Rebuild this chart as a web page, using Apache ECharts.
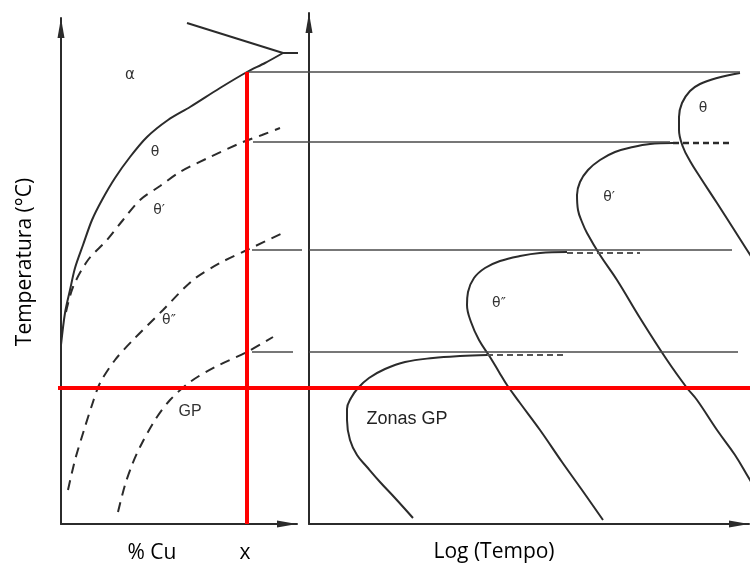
<!DOCTYPE html>
<html><head><meta charset="utf-8">
<script src="https://cdn.jsdelivr.net/npm/echarts@6/dist/echarts.min.js"></script>
<style>html,body{margin:0;padding:0;background:#fff}#c{width:750px;height:570px}</style>
</head><body><div id="c"></div>
<script>
// ---- Left panel: x = % Cu (arbitrary units), y = temperature (arbitrary units) ----
const solvusTheta = [[0,89.5],[2,105.5],[4.5,117],[7,128],[11,139.5],[15.5,152],[20.5,162],[27,173],[34.5,183.5],[43,193.5],[53.5,202],[64.5,208.5],[79.5,218],[93,226],[102,230.5],[111,235.5]];
const solvusUpper = [[111,235.5],[63,250.5]];
const solvusTick = [[111,235.5],[118.5,235.5]];
const solvusThetaPrime = [[2.5,106],[6,118.5],[13.5,132],[23,142],[31,152],[39.5,162],[49.5,169],[59.5,176],[74.5,183.5],[91,191],[100.5,194.5],[109.5,198]];
const solvusThetaDoublePrime = [[3.5,17],[7,32],[11.5,47],[15.5,59.5],[19.5,70.5],[27,82],[36,92],[51,107],[66,122],[79.5,130.5],[93,137],[112,146]];
const solvusGP = [[28.5,6],[32,19.5],[35.5,29.5],[39.5,38.5],[47,52],[54.5,62],[64.5,71],[77,78.5],[93,86],[106,93.5]];

// ---- Right panel: x = log(tempo) (arbitrary units), y = temperature ----
const cTheta = [[215.5,225.5],[204,223],[195.5,220],[190.5,216.5],[186.5,210.5],[185,203.5],[185,197],[187,188.5],[190.5,181.5],[195.5,173.5],[204,160.5],[212,148],[219,137],[225.5,127]];
const cThetaPrime = [[182,190.5],[170.5,190],[162,188.5],[153,186],[145.5,182],[139.5,177],[135.5,171],[134,164.5],[134.5,157],[136.5,151],[139,145.5],[145.5,134.5],[154,122],[165.5,103],[179,82],[189,68],[194,62],[204,47],[213,34.5],[220.5,22],[225.5,14.5]];
const cThetaDoublePrime = [[129,136],[115.5,135.5],[105.5,134],[95.5,131.5],[88,128],[82.5,123],[79.5,116],[79,109.5],[81,101],[85,92],[90.5,83.5],[95,76],[99,69.5],[105.5,60.5],[115.5,47],[126.5,31],[136.5,17],[147,2]];
const cGP = [[89,84.5],[75.5,84],[62,83],[48,81],[38,77.5],[30,73],[24.5,68],[21,63],[19,57.5],[19,52],[20.5,42],[24,34.5],[29,28.5],[35.5,21],[43,13],[52,3]];
const cThetaPrimeDash = [[182,190.5],[210.5,190.5]];
const cThetaDoublePrimeDash = [[129,135.5],[165.5,135.5]];
const cGPDash = [[89,84.5],[127,84.5]];

// ---- Overlay spanning both panels (x in overlay units), isotherms ----
const isotherm1 = [[123.5,226],[370,226]];
const isotherm2 = [[126.5,191],[335,191]];
const isotherm3L = [[126,137],[151,137]];
const isotherm3R = [[154.5,137],[366,137]];
const isotherm4L = [[126,86],[146.5,86]];
const isotherm4R = [[154.5,86],[369,86]];
const redVertical = [[123.5,0],[123.5,226]];
const redHorizontal = [[29,68],[375,68]];

const INK = '#2b2b2b';
function line(data, idx, opt) {
  opt = opt || {};
  return {
    type: 'line', xAxisIndex: idx, yAxisIndex: idx, data: data,
    showSymbol: false, symbol: 'none', smooth: opt.smooth || false,
    clip: opt.clip === undefined ? true : opt.clip, z: opt.z || 2, silent: true,
    lineStyle: { color: opt.color || INK, width: opt.width || 2, type: opt.type || 'solid', cap: 'butt' },
    animation: false
  };
}
const axisLineStyle = () => ({
  show: true, onZero: true,
  lineStyle: { color: INK, width: 2 },
  symbol: ['none', 'triangle'], symbolSize: [7, 20], symbolOffset: [0, -10]
});
function valAxis(idx, min, max, show) {
  return {
    type: 'value', gridIndex: idx, min: min, max: max, show: show,
    axisLine: axisLineStyle(), axisTick: { show: false }, axisLabel: { show: false }, splitLine: { show: false }
  };
}

const chart = echarts.init(document.getElementById('c'), null, { renderer: 'canvas' });
const dash = [10, 7];
chart.setOption({
  backgroundColor: '#ffffff',
  animation: false,
  grid: [
    { left: 61, top: 18, width: 236, height: 506 },
    { left: 309, top: 13, width: 440, height: 511 },
    { left: 0, top: 13, width: 750, height: 511 }
  ],
  xAxis: [valAxis(0, 0, 118, true), valAxis(1, 0, 220, true), valAxis(2, 0, 375, false)],
  yAxis: [valAxis(0, 0, 253, true), valAxis(1, 0, 255.5, true), valAxis(2, 0, 255.5, false)],
  series: [
    line(solvusTheta, 0, { smooth: 0.3 }),
    line(solvusUpper, 0, {}),
    line(solvusTick, 0, { clip: false }),
    line(solvusThetaPrime, 0, { smooth: 0.3, type: dash, clip: false }),
    line(solvusThetaDoublePrime, 0, { smooth: 0.3, type: dash, clip: false }),
    line(solvusGP, 0, { smooth: 0.3, type: dash }),
    line(cTheta, 1, { smooth: 0.4 }),
    line(cThetaPrime, 1, { smooth: 0.4 }),
    line(cThetaDoublePrime, 1, { smooth: 0.4 }),
    line(cGP, 1, { smooth: 0.4 }),
    line(cThetaPrimeDash, 1, { type: [6, 4], width: 2.5 }),
    line(cThetaDoublePrimeDash, 1, { type: [6, 4], width: 2, color: '#555' }),
    line(cGPDash, 1, { type: [6, 4], width: 2, color: '#555' }),
    line(isotherm1, 2, { width: 1.6, color: '#4a4a4a' }),
    line(isotherm2, 2, { width: 1.6, color: '#4a4a4a' }),
    line(isotherm3L, 2, { width: 1.6, color: '#4a4a4a' }),
    line(isotherm3R, 2, { width: 1.6, color: '#4a4a4a' }),
    line(isotherm4L, 2, { width: 1.6, color: '#4a4a4a' }),
    line(isotherm4R, 2, { width: 1.6, color: '#4a4a4a' }),
    line(redVertical, 2, { width: 4, color: '#ff0000', z: 5 }),
    line(redHorizontal, 2, { width: 4, color: '#ff0000', z: 5 })
  ],
  graphic: [
    { type: 'text', x: 130, y: 75, style: { text: 'α', font: '15px "DejaVu Sans"', fill: '#333', textAlign: 'center', textVerticalAlign: 'middle' } },
    { type: 'text', x: 155, y: 152, style: { text: 'θ', font: '14px "DejaVu Sans"', fill: '#333', textAlign: 'center', textVerticalAlign: 'middle' } },
    { type: 'text', x: 159, y: 210, style: { text: 'θ′', font: '14px "DejaVu Sans"', fill: '#333', textAlign: 'center', textVerticalAlign: 'middle' } },
    { type: 'text', x: 169, y: 320, style: { text: 'θ″', font: '14px "DejaVu Sans"', fill: '#333', textAlign: 'center', textVerticalAlign: 'middle' } },
    { type: 'text', x: 190, y: 412, style: { text: 'GP', font: '16px "Liberation Sans"', fill: '#333', textAlign: 'center', textVerticalAlign: 'middle' } },
    { type: 'text', x: 703, y: 108, style: { text: 'θ', font: '14px "DejaVu Sans"', fill: '#333', textAlign: 'center', textVerticalAlign: 'middle' } },
    { type: 'text', x: 609, y: 197, style: { text: 'θ′', font: '14px "DejaVu Sans"', fill: '#333', textAlign: 'center', textVerticalAlign: 'middle' } },
    { type: 'text', x: 499, y: 303, style: { text: 'θ″', font: '14px "DejaVu Sans"', fill: '#333', textAlign: 'center', textVerticalAlign: 'middle' } },
    { type: 'text', x: 407, y: 419, style: { text: 'Zonas GP', font: '18px "Liberation Sans"', fill: '#222', textAlign: 'center', textVerticalAlign: 'middle' } },
    { type: 'text', x: 152, y: 553, style: { text: '% Cu', font: '21px "Open Sans"', fill: '#000', textAlign: 'center', textVerticalAlign: 'middle' } },
    { type: 'text', x: 245, y: 553, style: { text: 'x', font: '21px "Open Sans"', fill: '#000', textAlign: 'center', textVerticalAlign: 'middle' } },
    { type: 'text', x: 494, y: 552, style: { text: 'Log (Tempo)', font: '21px "Open Sans"', fill: '#000', textAlign: 'center', textVerticalAlign: 'middle' } },
    { type: 'text', x: 25, y: 262, rotation: Math.PI / 2, style: { text: 'Temperatura (°C)', font: '21px "Open Sans"', fill: '#000', textAlign: 'center', textVerticalAlign: 'middle' } }
  ]
});
</script>
</body></html>
